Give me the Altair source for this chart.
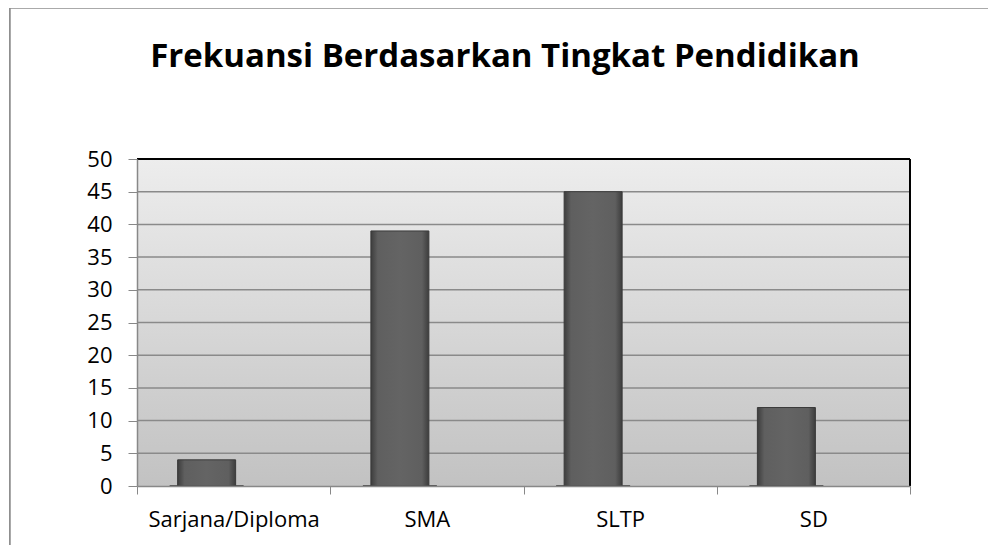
import altair as alt
import pandas as pd

categories = ["Sarjana/Diploma", "SMA", "SLTP", "SD"]
frequencies = [4, 39, 45, 12]
y_ticks = [0, 5, 10, 15, 20, 25, 30, 35, 40, 45, 50]
title_text = "Frekuansi Berdasarkan Tingkat Pendidikan"

df = pd.DataFrame({"kategori": categories, "frekuensi": frequencies})
grid_df = pd.DataFrame({"v": y_ticks[1:-1]})
title_df = pd.DataFrame({"t": [title_text]})

W, H = 773, 327
FONT = "Open Sans"

xscale = alt.Scale(domain=categories, paddingInner=0, paddingOuter=0)
yscale = alt.Scale(domain=[0, 50])

xaxis = alt.Axis(
    title=None, labelFont=FONT, labelFontSize=22, labelColor="#000",
    labelPadding=15, tickBand="extent", tickSize=8, tickColor="#888",
    domainColor="#888", domainWidth=1.5, grid=False, labelAngle=0, zindex=1,
)
yaxis = alt.Axis(
    title=None, values=y_ticks, labelFont=FONT, labelFontSize=22, labelColor="#000",
    labelPadding=16, tickSize=9, tickColor="#888", domainColor="#888", domainWidth=1.5,
    grid=False, zindex=1, labelOverlap=False,
)

X = alt.X("kategori:N", scale=xscale, axis=xaxis, sort=categories)

base = alt.Chart(df)

frame = base.mark_rect(fill="white", stroke="#8f8f8f", strokeWidth=1.5).encode(
    x=alt.value(-127), x2=alt.value(W + 200), y=alt.value(-151), y2=alt.value(H + 200)
)

title = alt.Chart(title_df).mark_text(
    font=FONT, fontSize=33, fontWeight="bold", color="#000",
    align="center", baseline="alphabetic",
).encode(text="t:N", x=alt.value(368), y=alt.value(-92))

bg = base.mark_rect(
    color=alt.LinearGradient(
        gradient="linear", x1=0, y1=0, x2=0, y2=1,
        stops=[alt.GradientStop(color="#ededed", offset=0),
               alt.GradientStop(color="#c2c2c2", offset=1)],
    )
).encode(x=alt.value(0), x2=alt.value(W), y=alt.value(0), y2=alt.value(H))

gridlines = alt.Chart(grid_df).mark_rule(color="#8a8a8a", strokeWidth=1.5).encode(
    y=alt.Y("v:Q", scale=yscale, axis=yaxis), x=alt.value(0), x2=alt.value(W)
)

shadow = base.mark_tick(color="#222", thickness=2, size=74, xOffset=-27, orient="horizontal").encode(
    x=X,
    y=alt.Y("zero:Q", scale=yscale, axis=yaxis),
).transform_calculate(zero="0")

bars = base.mark_bar(
    size=58, xOffset=-27, stroke="#3a3a3a", strokeWidth=1,
    color=alt.LinearGradient(
        gradient="linear", x1=0, y1=0, x2=1, y2=0,
        stops=[alt.GradientStop(color="#3d3d3d", offset=0),
               alt.GradientStop(color="#5f5f5f", offset=0.12),
               alt.GradientStop(color="#646464", offset=0.5),
               alt.GradientStop(color="#5f5f5f", offset=0.88),
               alt.GradientStop(color="#3d3d3d", offset=1)],
    ),
).encode(
    x=X,
    y=alt.Y("frekuensi:Q", scale=yscale, axis=yaxis),
)

top_border = base.mark_rule(color="#000", strokeWidth=1.5).encode(
    x=alt.value(0), x2=alt.value(W), y=alt.value(0)
)
right_border = base.mark_rule(color="#000", strokeWidth=1.5).encode(
    x=alt.value(W), y=alt.value(0), y2=alt.value(H)
)

chart = alt.layer(frame, title, bg, gridlines, shadow, bars, top_border, right_border).properties(
    width=W, height=H,
    autosize=alt.AutoSizeParams(type="none"),
    padding={"left": 129, "top": 151, "right": 78, "bottom": 59},
).configure_view(stroke=None)

chart.save("out.html", embed_options={"renderer": "svg", "actions": False})
